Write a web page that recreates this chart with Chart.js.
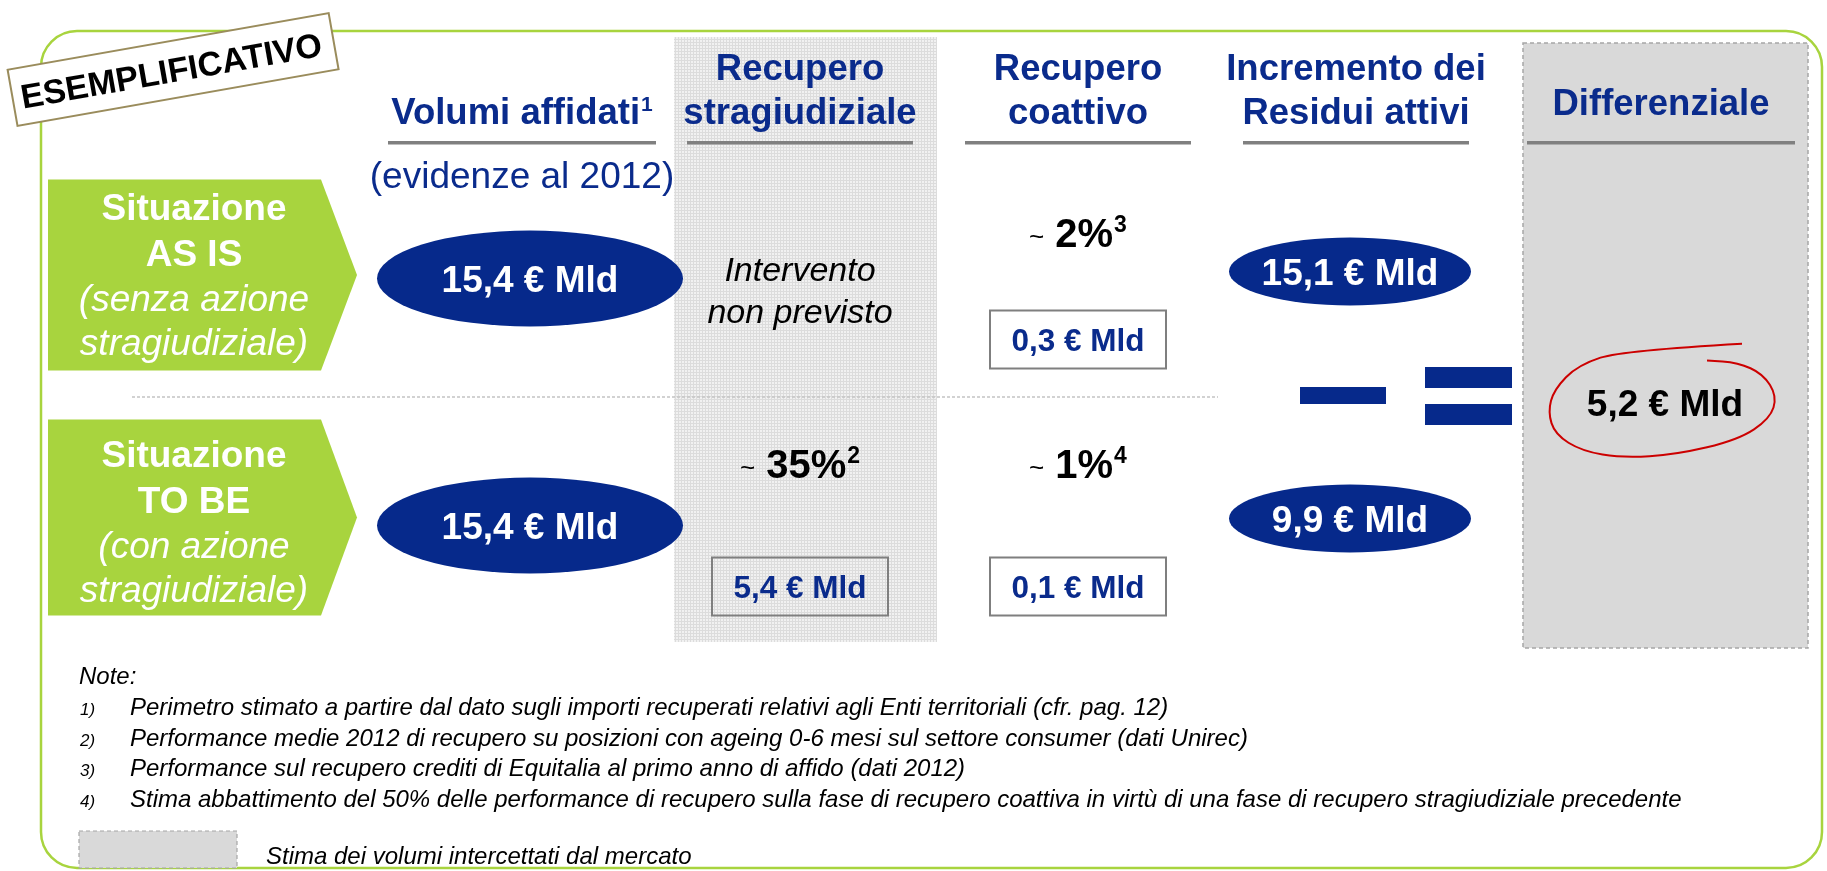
<!DOCTYPE html>
<html>
<head>
<meta charset="utf-8">
<script src="https://cdn.jsdelivr.net/npm/chart.js@4.4.1/dist/chart.umd.min.js"></script>
<style>
  html, body { margin: 0; padding: 0; background: #fff; }
  #wrap { position: relative; width: 1827px; height: 871px; }
</style>
</head>
<body>
<div id="wrap"><canvas id="chart" width="1827" height="871"></canvas></div>
<script>
// columns and scenarios
const columns = ['Volumi affidati', 'Recupero stragiudiziale', 'Recupero coattivo', 'Incremento dei Residui attivi', 'Differenziale'];
const headerLines = [['Volumi affidati'], ['Recupero', 'stragiudiziale'], ['Recupero', 'coattivo'], ['Incremento dei', 'Residui attivi'], ['Differenziale']];
const headerNotes = [1, null, null, null, null];
const subtitle = '(evidenze al 2012)';
const scenarios = ['AS IS', 'TO BE'];
const scenarioLabels = [['Situazione', 'AS IS', '(senza azione', 'stragiudiziale)'], ['Situazione', 'TO BE', '(con azione', 'stragiudiziale)']];

// values (€ Mld and %)
const volumiAffidati = [15.4, 15.4];
const quotaStragiudiziale = [null, 35];
const quotaStragiudizialeNote = [null, 2];
const recuperoStragiudiziale = [null, 5.4];
const quotaCoattivo = [2, 1];
const quotaCoattivoNote = [3, 4];
const recuperoCoattivo = [0.3, 0.1];
const incrementoResidui = [15.1, 9.9];
const differenziale = [5.2];
const nonPrevisto = ['Intervento', 'non previsto'];

const stamp = 'ESEMPLIFICATIVO';
const notesTitle = 'Note:';
const notes = [
  'Perimetro stimato a partire dal dato sugli importi recuperati relativi agli Enti territoriali (cfr. pag. 12)',
  'Performance medie 2012 di recupero su posizioni con ageing 0-6 mesi sul settore consumer (dati Unirec)',
  'Performance sul recupero crediti di Equitalia al primo anno di affido (dati 2012)',
  'Stima abbattimento del 50% delle performance di recupero sulla fase di recupero coattiva in virtù di una fase di recupero stragiudiziale precedente'
];
const legendLabel = 'Stima dei volumi intercettati dal mercato';

const ink = '#0a2b8c';
const navy = '#06298b';
const green = '#a8d43e';
const FF = '"Liberation Sans", Arial, sans-serif';
const font = (size, weight, style) => `${style || 'normal'} ${weight || 'normal'} ${size}px ${FF}`;
const fmt = v => v.toFixed(1).replace('.', ',') + ' € Mld';
const flowColumns = columns.slice(0, 4);
const resultColumns = columns.slice(4);

function points(col, values) {
  const out = [];
  values.forEach((v, i) => { if (v !== null) out.push({x: columns[col], y: scenarios[i], v: v, i: i}); });
  return out;
}

function colX(chart, i) {
  return i < flowColumns.length ? chart.scales.x.getPixelForValue(i) : chart.scales.x2.getPixelForValue(i - flowColumns.length);
}

// pieces of text drawn side by side, centered on x
function drawParts(ctx, parts, x, y) {
  let total = 0;
  parts.forEach(p => { ctx.font = p.font; p.w = ctx.measureText(p.text).width; total += p.w + (p.gap || 0); });
  let cx = x - total / 2;
  ctx.textAlign = 'left';
  ctx.textBaseline = 'alphabetic';
  parts.forEach(p => {
    ctx.font = p.font;
    ctx.fillStyle = p.color;
    cx += (p.gap || 0);
    ctx.fillText(p.text, cx, y + (p.dy || 0));
    cx += p.w;
  });
}

function dotPattern(ctx) {
  const c = document.createElement('canvas');
  c.width = 3; c.height = 3;
  const g = c.getContext('2d');
  g.fillStyle = '#f1f1f1'; g.fillRect(0, 0, 3, 3);
  g.fillStyle = '#dcdcdc'; g.fillRect(0, 0, 3, 1); g.fillRect(0, 0, 1, 3);
  return ctx.createPattern(c, 'repeat');
}

const layout = {
  id: 'layout',
  beforeDatasetsDraw(chart) {
    const ctx = chart.ctx;
    const ys = chart.scales.y;
    const area = chart.chartArea;
    const rows = scenarios.map((s, i) => ys.getPixelForValue(i));
    const midY = (rows[0] + rows[1]) / 2;
    ctx.save();

    // green frame
    ctx.strokeStyle = green;
    ctx.lineWidth = 2.5;
    ctx.beginPath();
    ctx.roundRect(41, 31, 1781, 837, 36);
    ctx.stroke();

    // market band behind "Recupero stragiudiziale"
    const sx = colX(chart, 1);
    ctx.fillStyle = dotPattern(ctx);
    ctx.fillRect(sx - 126, 37, 263, area.bottom - 7 - 37);

    // differenziale box
    const dx = colX(chart, 4);
    const boxH = area.bottom - 1 - 43;
    ctx.fillStyle = '#d9d9d9';
    ctx.fillRect(dx - 138, 43, 285, boxH);
    ctx.setLineDash([4, 3]);
    ctx.strokeStyle = '#a6a6a6';
    ctx.lineWidth = 1.5;
    ctx.strokeRect(dx - 138, 43, 285, boxH);

    // separator between scenarios
    ctx.strokeStyle = '#c4c4c4';
    ctx.setLineDash([3, 2]);
    ctx.beginPath();
    ctx.moveTo(132, midY - 5);
    ctx.lineTo(colX(chart, 2) + 140, midY - 5);
    ctx.stroke();
    ctx.setLineDash([]);

    // column headers
    columns.forEach((c, i) => {
      const x = colX(chart, i);
      const lines = headerLines[i];
      const last = (lines.length === 1 && !headerNotes[i]) ? 115 : 124;
      lines.forEach((t, k) => {
        const y = last - (lines.length - 1 - k) * 44;
        const parts = [{text: t, font: font(36.5, 'bold'), color: ink}];
        if (headerNotes[i] && k === lines.length - 1) parts.push({text: String(headerNotes[i]), font: font(21, 'bold'), color: ink, dy: -13, gap: 1});
        drawParts(ctx, parts, x, y);
      });
      const w = (i === 0 || i === columns.length - 1) ? 268 : 226;
      ctx.fillStyle = '#808080';
      ctx.fillRect(x - w / 2, 141, w, 3.5);
    });
    drawParts(ctx, [{text: subtitle, font: font(37), color: ink}], colX(chart, 0), 188);

    // scenario arrows
    const arrowTop = [-99, -106], arrowBottom = [92, 90];
    rows.forEach((ry, i) => {
      const t = ry + arrowTop[i], b = ry + arrowBottom[i], m = (t + b) / 2;
      ctx.fillStyle = green;
      ctx.beginPath();
      ctx.moveTo(48, t);
      ctx.lineTo(321, t);
      ctx.lineTo(357, m);
      ctx.lineTo(321, b);
      ctx.lineTo(48, b);
      ctx.closePath();
      ctx.fill();
      const lab = scenarioLabels[i];
      const offs = [-53, -7, 38, 82];
      lab.forEach((txt, k) => {
        drawParts(ctx, [{text: txt, font: k < 2 ? font(37, 'bold') : font(37, 'normal', 'italic'), color: '#ffffff'}], 194, ry - 6 + offs[k]);
      });
    });

    // stamp
    ctx.save();
    ctx.translate(173, 69);
    ctx.rotate(-10 * Math.PI / 180);
    ctx.fillStyle = '#ffffff';
    ctx.fillRect(-163, -28, 326, 57);
    ctx.strokeStyle = '#9a8c5c';
    ctx.lineWidth = 2;
    ctx.strokeRect(-163, -28, 326, 57);
    ctx.fillStyle = '#000';
    ctx.font = font(34, 'bold');
    ctx.textAlign = 'center';
    ctx.textBaseline = 'alphabetic';
    ctx.fillText(stamp, -2, 13);
    ctx.restore();

    // notes
    ctx.fillStyle = '#000';
    ctx.textAlign = 'left';
    ctx.textBaseline = 'alphabetic';
    ctx.font = font(24, 'normal', 'italic');
    ctx.fillText(notesTitle, 79, 684);
    notes.forEach((t, k) => {
      const y = 715 + k * 30.5;
      ctx.font = font(17, 'normal', 'italic');
      ctx.fillText((k + 1) + ')', 80, y);
      ctx.font = font(24, 'normal', 'italic');
      ctx.fillText(t, 130, y);
    });
    ctx.fillStyle = '#d9d9d9';
    ctx.fillRect(79, 831, 158, 37);
    ctx.setLineDash([4, 3]);
    ctx.strokeStyle = '#a6a6a6';
    ctx.lineWidth = 1.2;
    ctx.strokeRect(79, 831, 158, 37);
    ctx.setLineDash([]);
    ctx.fillStyle = '#000';
    ctx.font = font(24, 'normal', 'italic');
    ctx.fillText(legendLabel, 266, 864);
    ctx.restore();
  },
  afterDatasetsDraw(chart) {
    const ctx = chart.ctx;
    const ys = chart.scales.y;
    const midY = (ys.getPixelForValue(0) + ys.getPixelForValue(1)) / 2;
    const pctOffset = [-32, -48];
    ctx.save();
    chart.data.datasets.forEach((ds, di) => {
      const meta = chart.getDatasetMeta(di);
      meta.data.forEach((el, j) => {
        const p = ds.data[j];
        const x = el.x, y = el.y;
        if (ds.kind === 'ellipse') {
          const rx = ds.small ? 121 : 153, ry = ds.small ? 34 : 48;
          const cx = x + (ds.small ? -6 : 8), cy = y + (ds.small ? -7 : 0);
          ctx.fillStyle = navy;
          ctx.beginPath();
          ctx.ellipse(cx, cy, rx, ry, 0, 0, Math.PI * 2);
          ctx.fill();
          drawParts(ctx, [{text: fmt(p.v), font: font(37, 'bold'), color: '#ffffff'}], cx, cy + 13);
        } else if (ds.kind === 'pct') {
          const parts = [
            {text: '~', font: font(26), color: '#000', dy: -2},
            {text: p.v + '%', font: font(40, 'bold'), color: '#000', gap: 11},
            {text: String(ds.notes[p.i]), font: font(23, 'bold'), color: '#000', dy: -15, gap: 1}
          ];
          drawParts(ctx, parts, x, y + pctOffset[p.i]);
        } else if (ds.kind === 'box') {
          ctx.strokeStyle = '#7f7f7f';
          ctx.lineWidth = 2;
          ctx.strokeRect(x - 88, y + 32, 176, 58);
          drawParts(ctx, [{text: fmt(p.v), font: font(31.5, 'bold'), color: ink}], x, y + 72);
        } else if (ds.kind === 'text') {
          drawParts(ctx, [{text: nonPrevisto[0], font: font(34, 'normal', 'italic'), color: '#000'}], x, y + 2);
          drawParts(ctx, [{text: nonPrevisto[1], font: font(34, 'normal', 'italic'), color: '#000'}], x, y + 44);
        } else if (ds.kind === 'result') {
          const cy = midY + 1;
          // minus and equals signs in front of the result
          const eqx = x - 138 - 55;
          ctx.fillStyle = navy;
          ctx.fillRect(eqx - 125 - 43, cy - 16, 86, 17);
          ctx.fillRect(eqx - 43, cy - 36, 87, 21);
          ctx.fillRect(eqx - 43, cy + 1, 87, 21);
          drawParts(ctx, [{text: fmt(p.v), font: font(37, 'bold'), color: '#000'}], x + 4, cy + 13);
          // hand drawn loop
          const pts = [[77, -53], [-42, -47], [-87, -34], [-111, -12], [-117, 8], [-110, 28], [-83, 43], [-42, 49], [11, 46], [73, 33], [105, 14], [112, -6], [98, -26], [73, -36], [42, -38]];
          ctx.strokeStyle = '#cc0000';
          ctx.lineWidth = 2;
          ctx.beginPath();
          const px = v => x + 4 + v, py = v => cy + v * 1.12;
          ctx.moveTo(px(pts[0][0]), py(pts[0][1]));
          for (let k = 1; k < pts.length - 1; k++) {
            const mx = (pts[k][0] + pts[k + 1][0]) / 2, my = (pts[k][1] + pts[k + 1][1]) / 2;
            ctx.quadraticCurveTo(px(pts[k][0]), py(pts[k][1]), px(mx), py(my));
          }
          const e = pts[pts.length - 1];
          ctx.lineTo(px(e[0]), py(e[1]));
          ctx.stroke();
        }
      });
    });
    ctx.restore();
  }
};

new Chart(document.getElementById('chart'), {
  type: 'scatter',
  data: {
    datasets: [
      {label: columns[0], kind: 'ellipse', data: points(0, volumiAffidati)},
      {label: columns[1], kind: 'text', data: points(1, recuperoStragiudiziale.map(v => v === null ? 0 : null))},
      {label: columns[1] + ' %', kind: 'pct', notes: quotaStragiudizialeNote, data: points(1, quotaStragiudiziale)},
      {label: columns[1] + ' € Mld', kind: 'box', data: points(1, recuperoStragiudiziale)},
      {label: columns[2] + ' %', kind: 'pct', notes: quotaCoattivoNote, data: points(2, quotaCoattivo)},
      {label: columns[2] + ' € Mld', kind: 'box', data: points(2, recuperoCoattivo)},
      {label: columns[3], kind: 'ellipse', small: true, data: points(3, incrementoResidui)},
      {label: columns[4], kind: 'result', xAxisID: 'x2', data: points(4, differenziale)}
    ]
  },
  options: {
    responsive: false,
    animation: false,
    events: [],
    layout: {padding: {left: 383, right: 0, top: 155, bottom: 222}},
    elements: {point: {radius: 0, hoverRadius: 0}},
    plugins: {legend: {display: false}, tooltip: {enabled: false}},
    scales: {
      // flow columns and the result column share the width, side by side
      x: {type: 'category', labels: flowColumns, offset: true, display: false, position: 'bottom', stack: 'cols', stackWeight: 1112},
      x2: {type: 'category', labels: resultColumns, offset: true, display: false, position: 'bottom', stack: 'cols', stackWeight: 332},
      y: {type: 'category', labels: scenarios, offset: true, display: false}
    }
  },
  plugins: [layout]
});
</script>
</body>
</html>
